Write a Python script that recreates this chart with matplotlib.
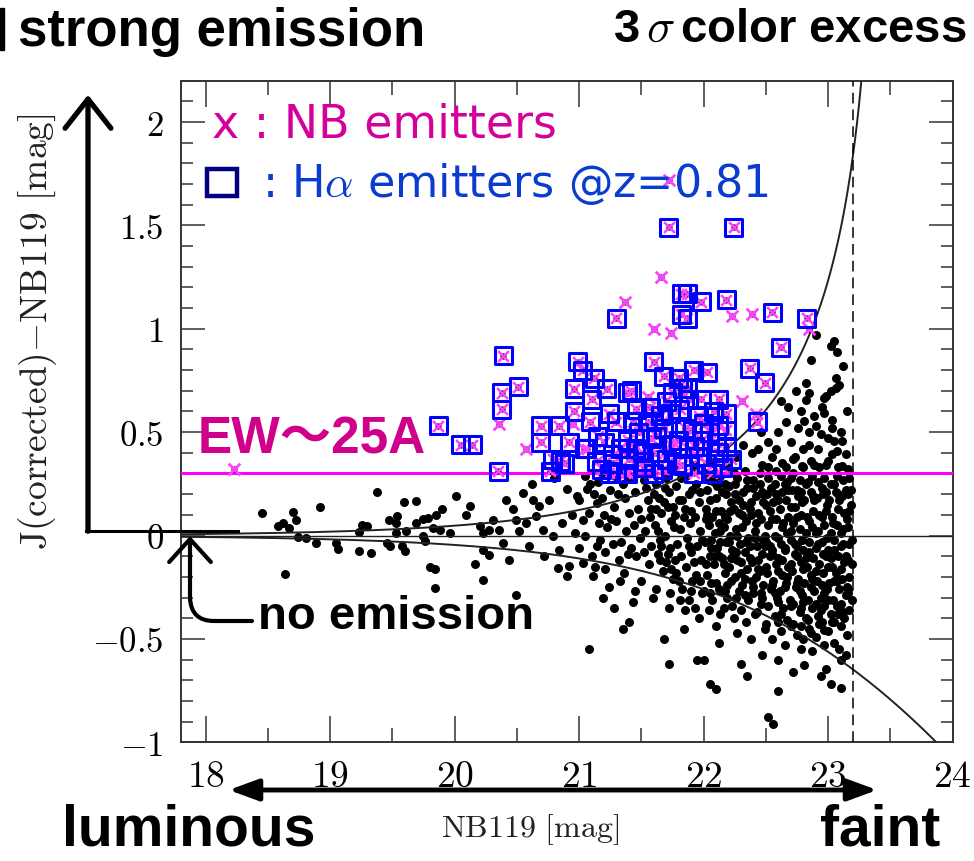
import numpy as np
import matplotlib
matplotlib.use('Agg')
import matplotlib.pyplot as plt
from matplotlib.ticker import MultipleLocator, FuncFormatter
from matplotlib.patches import FancyArrowPatch, Rectangle
from matplotlib.path import Path

plt.rcParams['mathtext.fontset'] = 'cm'

# ---- data: (NB119 mag, J-NB119 colour) ----
field = [
    (18.45, 0.11), (18.70, 0.115), (18.73, 0.074), (18.58, 0.045), (18.62, 0.061), (18.67, 0.037),
    (18.92, 0.139), (18.64, -0.185), (18.89, -0.035), (18.74, -0.006), (18.81, -0.011), (19.05, -0.035),
    (19.06, -0.064), (19.23, -0.076), (19.33, -0.084), (19.38, 0.211), (19.26, 0.053), (19.30, 0.048),
    (19.23, 0.016), (19.47, 0.074), (19.53, 0.061), (19.54, 0.093), (19.59, 0.161), (19.69, 0.166),
    (19.46, -0.035), (19.48, -0.052), (19.58, -0.052), (19.60, -0.073), (19.53, 0.013), (19.61, 0.021),
    (19.69, 0.061), (19.75, 0.081), (19.79, 0.086), (19.85, 0.10), (19.90, 0.129), (19.75, -0.003),
    (19.76, -0.027), (19.83, 0.037), (19.88, 0.029), (19.96, 0.013), (20.01, 0.19), (20.12, 0.142),
    (20.09, 0.10), (19.80, -0.151), (19.84, -0.164), (19.84, -0.253), (20.16, -0.14), (20.23, -0.213),
    (20.49, -0.289), (20.20, 0.045), (20.23, 0.013), (20.28, 0.029), (20.31, 0.077), (20.23, -0.068),
    (20.28, -0.092), (20.36, 0.029), (20.39, -0.035), (20.41, 0.174), (20.47, 0.126), (20.49, 0.077),
    (20.55, 0.207), (20.63, 0.174), (20.57, 0.061), (20.65, 0.093), (20.71, 0.029), (20.68, 0.142),
    (20.76, 0.174), (20.79, -0.003), (20.84, -0.068), (20.92, -0.148), (20.90, -0.197), (20.83, -0.156),
    (21.11, -0.197), (21.03, -0.132), (20.97, 0.013), (21.03, 0.077), (21.08, 0.11), (20.90, 0.223),
    (20.98, 0.19), (21.06, 0.223), (21.14, 0.158), (21.14, -0.052), (20.60, -0.05), (20.52, 0.02),
    (20.44, -0.12), (20.86, 0.06), (20.94, 0.10), (21.00, -0.06), (20.72, -0.10), (20.62, 0.25),
    (20.80, 0.28), (21.05, 0.29),
    (21.15, 0.26), (21.18, 0.18), (21.20, 0.10), (21.22, 0.04), (21.17, -0.02), (21.21, -0.08),
    (21.25, 0.22), (21.28, 0.14), (21.30, 0.07), (21.27, -0.04), (21.32, -0.12), (21.35, 0.25),
    (21.37, 0.18), (21.40, 0.11), (21.38, 0.02), (21.42, -0.06), (21.36, -0.18), (21.45, 0.21),
    (21.47, 0.13), (21.44, 0.05), (21.49, -0.01), (21.46, -0.10), (21.50, -0.22), (21.52, 0.27),
    (21.55, 0.17), (21.57, 0.09), (21.53, 0.02), (21.58, -0.05), (21.56, -0.14), (21.59, -0.30),
    (21.24, -0.25), (21.12, 0.20), (21.13, -0.15), (21.43, -0.32), (21.29, 0.29), (21.48, 0.30),
    (21.34, -0.03), (21.19, -0.30), (21.08, -0.55), (21.40, -0.42),
    (21.05, 0.00), (21.10, -0.10), (21.16, 0.06), (21.21, -0.16), (21.26, 0.08), (21.31, 0.20),
    (21.33, -0.22), (21.39, -0.09), (21.41, 0.28), (21.50, 0.08), (21.52, -0.08), (21.54, 0.23),
    (21.45, -0.27), (21.28, -0.35), (21.58, 0.13), (21.18, 0.30), (21.09, 0.25), (21.00, 0.17),
    (21.62, 0.25), (21.64, 0.18), (21.66, 0.11), (21.61, 0.05), (21.65, -0.02), (21.63, -0.09),
    (21.67, -0.17), (21.62, -0.26), (21.70, 0.28), (21.72, 0.21), (21.71, 0.14), (21.74, 0.07),
    (21.69, 0.00), (21.73, -0.06), (21.70, -0.13), (21.75, -0.21), (21.72, -0.35), (21.78, 0.24),
    (21.80, 0.17), (21.77, 0.10), (21.81, 0.03), (21.79, -0.04), (21.82, -0.10), (21.78, -0.18),
    (21.83, -0.26), (21.86, 0.29), (21.88, 0.20), (21.85, 0.13), (21.89, 0.06), (21.87, -0.01),
    (21.90, -0.08), (21.86, -0.15), (21.91, -0.22), (21.88, -0.31), (21.94, 0.25), (21.96, 0.16),
    (21.93, 0.09), (21.97, 0.02), (21.95, -0.05), (21.98, -0.12), (21.94, -0.19), (21.99, -0.28),
    (21.96, -0.40), (21.84, -0.45), (21.68, -0.50), (21.76, 0.33), (21.92, 0.34),
    (21.60, 0.20), (21.63, 0.02), (21.66, -0.05), (21.68, 0.16), (21.71, -0.09), (21.73, -0.28),
    (21.76, 0.04), (21.77, -0.12), (21.80, -0.22), (21.82, 0.28), (21.84, 0.09), (21.85, -0.36),
    (21.88, -0.05), (21.90, 0.12), (21.92, -0.13), (21.93, -0.35), (21.97, 0.21), (21.99, -0.02),
    (21.97, -0.22), (21.62, 0.13), (21.69, 0.23), (21.75, 0.14), (21.83, 0.17), (21.91, 0.22),
    (21.65, -0.12), (21.74, -0.16), (21.81, -0.31), (21.90, -0.27),
    (22.01, 0.30), (22.03, 0.22), (22.02, 0.13), (22.04, 0.05), (22.01, -0.03), (22.05, -0.10),
    (22.03, -0.19), (22.00, -0.27), (22.04, -0.36), (22.07, 0.35), (22.08, 0.26), (22.10, 0.18),
    (22.07, 0.09), (22.09, 0.01), (22.11, -0.06), (22.08, -0.14), (22.10, -0.23), (22.07, -0.31),
    (22.10, -0.44), (22.13, 0.29), (22.15, 0.21), (22.14, 0.12), (22.16, 0.04), (22.13, -0.03),
    (22.15, -0.11), (22.17, -0.18), (22.14, -0.27), (22.16, -0.35), (22.12, -0.52), (22.19, 0.33),
    (22.20, 0.24), (22.22, 0.16), (22.19, 0.08), (22.21, 0.00), (22.23, -0.07), (22.20, -0.15),
    (22.22, -0.22), (22.19, -0.30), (22.24, -0.40), (22.26, 0.38), (22.27, 0.28), (22.25, 0.20),
    (22.28, 0.11), (22.26, 0.03), (22.29, -0.04), (22.27, -0.12), (22.25, -0.20), (22.28, -0.27),
    (22.30, -0.36), (22.27, -0.47), (22.32, 0.44), (22.33, 0.31), (22.35, 0.23), (22.32, 0.15),
    (22.34, 0.07), (22.36, -0.01), (22.33, -0.08), (22.35, -0.16), (22.31, -0.24), (22.36, -0.31),
    (22.34, -0.42), (22.39, 0.40), (22.40, 0.27), (22.42, 0.19), (22.38, 0.10), (22.41, 0.02),
    (22.43, -0.05), (22.39, -0.13), (22.42, -0.20), (22.40, -0.28), (22.43, -0.37), (22.38, -0.50),
    (22.46, 0.50), (22.47, 0.34), (22.45, 0.25), (22.48, 0.16), (22.46, 0.08), (22.49, 0.00),
    (22.47, -0.09), (22.45, -0.17), (22.48, -0.24), (22.46, -0.33), (22.49, -0.45), (22.47, -0.58),
    (22.02, 0.08), (22.06, -0.06), (22.05, 0.17), (22.06, -0.23), (22.09, 0.30), (22.12, 0.06),
    (22.12, -0.10), (22.13, -0.38), (22.17, 0.25), (22.18, -0.03), (22.17, -0.27), (22.21, 0.12),
    (22.22, -0.11), (22.23, -0.34), (22.24, 0.30), (22.26, -0.08), (22.28, 0.17), (22.30, -0.18),
    (22.31, 0.04), (22.33, -0.29), (22.35, 0.27), (22.37, -0.05), (22.38, 0.16), (22.39, -0.22),
    (22.41, -0.38), (22.42, 0.06), (22.44, -0.12), (22.45, 0.30), (22.46, -0.28), (22.48, 0.20),
    (22.49, -0.05), (22.44, 0.42),
    (22.04, 0.27), (22.11, 0.24), (22.18, 0.20), (22.25, 0.25), (22.32, 0.21), (22.40, 0.23),
    (22.47, 0.21), (22.03, 0.10), (22.10, 0.12), (22.17, 0.09), (22.24, 0.13), (22.31, 0.10),
    (22.37, 0.13), (22.44, 0.11), (22.06, -0.02), (22.13, 0.02), (22.20, -0.03), (22.27, 0.00),
    (22.34, -0.03), (22.41, -0.01), (22.48, -0.02), (22.02, -0.14), (22.09, -0.10), (22.16, -0.14),
    (22.23, -0.11), (22.30, -0.13), (22.37, -0.11), (22.44, -0.16), (22.05, -0.28), (22.12, -0.26),
    (22.19, -0.24), (22.26, -0.30), (22.33, -0.21), (22.40, -0.25), (22.47, -0.30),
    (22.10, -0.74), (22.00, -0.60), (22.30, -0.62), (22.52, -0.88), (22.56, -0.91), (21.35, -0.45),
    (21.72, -0.62), (22.05, -0.72), (21.95, -0.60), (22.35, -0.68), (22.60, -0.75),
    (22.52, 0.45), (22.55, 0.38), (22.60, 0.50), (22.58, 0.42), (22.63, 0.35), (22.66, 0.55),
    (22.70, 0.45), (22.68, 0.62), (22.73, 0.38), (22.76, 0.52), (22.74, 0.70), (22.78, 0.60),
    (22.80, 0.42), (22.62, 0.65),
    (22.52, 0.28), (22.51, 0.20), (22.53, 0.12), (22.52, 0.05), (22.50, -0.03), (22.53, -0.10),
    (22.51, -0.18), (22.54, -0.26), (22.52, -0.34), (22.50, -0.43), (22.57, 0.25), (22.56, 0.16),
    (22.58, 0.08), (22.57, 0.00), (22.55, -0.07), (22.58, -0.14), (22.56, -0.22), (22.59, -0.30),
    (22.57, -0.39), (22.55, -0.50), (22.62, 0.29), (22.63, 0.21), (22.61, 0.13), (22.63, 0.04),
    (22.62, -0.04), (22.60, -0.11), (22.63, -0.19), (22.61, -0.27), (22.64, -0.35), (22.62, -0.46),
    (22.60, -0.60), (22.67, 0.26), (22.66, 0.17), (22.68, 0.09), (22.67, 0.01), (22.65, -0.06),
    (22.68, -0.15), (22.66, -0.23), (22.69, -0.31), (22.67, -0.41), (22.65, -0.53), (22.72, 0.30),
    (22.71, 0.22), (22.73, 0.14), (22.72, 0.06), (22.70, -0.02), (22.73, -0.09), (22.71, -0.17),
    (22.74, -0.25), (22.72, -0.33), (22.70, -0.44), (22.72, -0.66), (22.77, 0.27), (22.76, 0.19),
    (22.78, 0.10), (22.77, 0.03), (22.75, -0.05), (22.78, -0.13), (22.76, -0.21), (22.79, -0.29),
    (22.77, -0.37), (22.75, -0.48), (22.82, 0.25), (22.81, 0.17), (22.83, 0.09), (22.82, 0.01),
    (22.80, -0.07), (22.83, -0.15), (22.81, -0.23), (22.84, -0.31), (22.82, -0.40), (22.80, -0.50),
    (22.87, 0.29), (22.86, 0.21), (22.88, 0.12), (22.87, 0.04), (22.85, -0.03), (22.88, -0.11),
    (22.86, -0.19), (22.89, -0.27), (22.87, -0.35), (22.85, -0.45), (22.87, -0.56), (22.92, 0.26),
    (22.91, 0.18), (22.93, 0.10), (22.92, 0.02), (22.90, -0.06), (22.93, -0.14), (22.91, -0.22),
    (22.94, -0.30), (22.92, -0.39), (22.90, -0.49), (22.97, 0.28), (22.96, 0.20), (22.98, 0.12),
    (22.97, 0.05), (22.95, -0.03), (22.98, -0.10), (22.96, -0.18), (22.99, -0.26), (22.97, -0.34),
    (22.95, -0.42), (22.97, -0.53), (23.02, 0.25), (23.01, 0.17), (23.03, 0.09), (23.02, 0.01),
    (23.00, -0.07), (23.03, -0.15), (23.01, -0.23), (23.04, -0.31), (23.02, -0.38), (23.00, -0.46),
    (23.07, 0.29), (23.06, 0.21), (23.08, 0.13), (23.07, 0.05), (23.05, -0.02), (23.08, -0.10),
    (23.06, -0.18), (23.09, -0.26), (23.07, -0.34), (23.05, -0.42), (23.12, 0.27), (23.11, 0.19),
    (23.13, 0.11), (23.12, 0.03), (23.10, -0.05), (23.13, -0.13), (23.11, -0.21), (23.14, -0.29),
    (23.12, -0.37), (23.10, -0.44), (23.17, 0.28), (23.16, 0.20), (23.17, 0.12), (23.16, 0.04),
    (23.17, -0.04), (23.16, -0.12), (23.17, -0.20), (23.16, -0.28), (23.17, -0.36),
    (22.54, 0.23), (22.65, 0.25), (22.75, 0.22), (22.84, 0.26), (22.95, 0.23), (23.05, 0.25),
    (23.14, 0.22), (22.50, 0.15), (22.60, 0.17), (22.70, 0.14), (22.79, 0.16), (22.89, 0.17),
    (22.99, 0.15), (23.09, 0.17), (23.18, 0.15), (22.55, 0.08), (22.64, 0.06), (22.75, 0.09),
    (22.85, 0.07), (22.95, 0.09), (23.04, 0.06), (23.15, 0.08), (22.60, -0.01), (22.70, 0.02),
    (22.79, -0.02), (22.90, 0.01), (22.99, -0.01), (23.10, 0.01), (23.19, -0.02), (22.55, -0.09),
    (22.65, -0.07), (22.75, -0.10), (22.85, -0.08), (22.96, -0.09), (23.05, -0.07), (23.14, -0.10),
    (22.50, -0.15), (22.60, -0.17), (22.70, -0.14), (22.80, -0.16), (22.90, -0.17), (23.00, -0.15),
    (23.10, -0.16), (23.19, -0.14), (22.55, -0.24), (22.65, -0.25), (22.75, -0.23), (22.86, -0.25),
    (22.95, -0.24), (23.05, -0.22), (23.15, -0.25), (22.60, -0.32), (22.70, -0.34), (22.80, -0.32),
    (22.90, -0.33), (23.00, -0.31), (23.10, -0.33), (23.19, -0.31), (22.60, -0.42), (22.72, -0.43),
    (22.84, -0.41), (22.93, -0.43), (23.03, -0.42), (23.13, -0.40),
    (22.52, 0.33), (22.58, 0.31), (22.66, 0.33), (22.72, 0.37), (22.80, 0.33), (22.86, 0.36),
    (22.93, 0.33), (23.00, 0.36), (23.08, 0.33), (23.16, 0.32), (22.53, -0.05), (22.63, -0.12),
    (22.73, -0.04), (22.82, -0.11), (22.92, -0.04), (23.02, -0.11), (23.12, -0.04), (22.58, 0.20),
    (22.68, 0.22), (22.78, 0.21), (22.88, 0.19), (22.98, 0.21), (23.08, 0.20), (23.18, 0.22),
    (22.57, -0.28), (22.67, -0.20), (22.77, -0.27), (22.87, -0.21), (22.97, -0.28), (23.07, -0.22),
    (23.16, -0.26), (22.62, -0.38), (22.78, -0.35), (22.94, -0.36), (23.08, -0.38), (22.85, 0.50),
    (22.92, 0.42), (23.00, 0.47), (23.10, 0.50), (23.15, 0.60), (22.95, 0.62), (23.12, 0.82),
    (22.70, 0.28),
    (22.90, 0.972), (23.05, 0.94), (23.02, 0.916), (23.07, 0.887), (22.86, 0.847), (23.06, 0.763),
    (22.82, 0.739), (22.85, 0.69), (22.82, 0.655), (22.98, 0.674), (23.02, 0.698), (23.06, 0.714),
    (23.09, 0.726), (22.97, 0.666), (22.89, 0.577), (22.97, 0.594), (22.81, 0.553), (22.90, 0.529),
    (23.03, 0.561), (23.03, 0.521), (22.94, 0.489), (22.85, 0.44), (23.05, 0.456), (23.11, 0.456),
    (23.07, 0.408), (23.14, 0.392), (23.03, 0.392), (22.98, 0.343), (22.89, 0.343), (22.79, 0.335),
    (23.11, 0.335), (22.78, -0.44), (22.86, -0.47), (22.97, -0.455), (23.15, -0.48), (23.05, -0.52),
    (23.09, -0.55), (23.10, -0.60), (22.81, -0.624), (22.98, -0.648), (22.94, -0.68), (23.02, -0.72),
    (23.10, -0.737), (23.14, -0.576), (22.78, -0.55),
]

ha_emitters = [
    (19.87, 0.53), (20.05, 0.44), (20.14, 0.44), (20.35, 0.31), (20.39, 0.87), (20.38, 0.69),
    (20.38, 0.61), (20.51, 0.72), (20.69, 0.53), (20.84, 0.53), (20.92, 0.45), (20.69, 0.45),
    (20.79, 0.37), (20.77, 0.31), (20.85, 0.36), (20.99, 0.84), (21.03, 0.80), (20.96, 0.71),
    (21.12, 0.76), (21.22, 0.71), (20.96, 0.60), (21.10, 0.66), (21.09, 0.55), (21.15, 0.48),
    (21.06, 0.42), (21.27, 0.39), (21.30, 0.30), (21.39, 0.30), (21.39, 0.69), (21.42, 0.70),
    (21.30, 1.05), (21.60, 0.84), (21.68, 0.77), (21.82, 1.17), (21.87, 1.17), (21.98, 1.13),
    (22.18, 1.14), (21.82, 1.07), (21.87, 1.05), (22.55, 1.08), (22.62, 0.91), (22.37, 0.81),
    (22.49, 0.74), (22.43, 0.55), (21.92, 0.80), (22.03, 0.79), (21.80, 0.76), (21.83, 0.71),
    (20.88, 0.35), (21.04, 0.42), (21.27, 0.35), (21.24, 0.30), (21.24, 0.59), (21.30, 0.55),
    (21.46, 0.61), (21.39, 0.46), (21.48, 0.50), (21.51, 0.40), (21.40, 0.37), (21.37, 0.30),
    (21.62, 0.48), (21.65, 0.58), (21.73, 0.59), (21.81, 0.61), (21.70, 0.37), (21.78, 0.35),
    (21.67, 0.32), (21.74, 0.44), (21.83, 0.34), (21.75, 0.69), (21.87, 0.71), (21.88, 0.66),
    (21.96, 0.58), (21.91, 0.51), (21.99, 0.46), (21.96, 0.38), (22.02, 0.35), (22.12, 0.66),
    (22.18, 0.59), (22.12, 0.53), (22.18, 0.51), (22.10, 0.45), (22.12, 0.40), (22.18, 0.43),
    (22.83, 1.05), (21.72, 1.49), (22.24, 1.49), (21.55, 0.55), (21.58, 0.47), (21.52, 0.33),
    (21.60, 0.30), (21.85, 0.52), (21.92, 0.30), (22.05, 0.50), (22.07, 0.30), (22.15, 0.33),
    (21.45, 0.42), (21.20, 0.45), (21.57, 0.62), (21.88, 0.42), (22.22, 0.37), (21.18, 0.32),
    (21.68, 0.52), (21.93, 0.43), (21.33, 0.42), (21.52, 0.36), (21.62, 0.40), (21.80, 0.46),
    (22.00, 0.54), (22.08, 0.60), (21.43, 0.55), (21.14, 0.36), (21.98, 0.66), (21.70, 0.65),
]

nb_only = [
    (18.23, 0.32), (20.36, 0.54), (20.57, 0.42), (21.37, 1.13), (21.60, 1.00), (21.74, 0.98),
    (22.23, 1.06), (22.39, 1.07), (21.66, 1.25), (21.72, 1.72), (21.55, 0.67), (22.31, 0.65),
    (21.75, 0.45), (20.95, 0.54), (22.42, 0.59), (22.85, 1.00),
]

m_lim = 23.42      # NB119 where the 3 sigma curve diverges
ew_cut = 0.3       # EW ~ 25A colour cut
mag_cut = 23.2     # dashed limit

fx, fy = zip(*field)
hx, hy = zip(*ha_emitters)
nx, ny = zip(*nb_only)

fig = plt.figure(figsize=(9.74, 8.61), dpi=100)
ax = fig.add_axes([0.1855, 0.1379, 0.7926, 0.7684])

# 3 sigma curves
m = np.linspace(17.8, 24.0, 800)
s = 10 ** (0.4 * (m - m_lim))
up = np.where(s < 0.999, -2.5 * np.log10(np.clip(1 - s, 1e-6, None)), np.nan)
lo = -2.5 * np.log10(1 + s)
ax.plot(m, up, color='#222222', lw=1.4, zorder=3)
ax.plot(m, lo, color='#222222', lw=1.4, zorder=3)
ax.axhline(0, color='#222222', lw=1.0, zorder=3)
ax.axhline(ew_cut, color='#ff00ff', lw=2.2, zorder=4)
ax.axvline(mag_cut, color='black', lw=1.1, ls=(0, (7, 4)), zorder=3)

ax.scatter(fx, fy, s=42, color='black', lw=0, zorder=2)
ax.scatter(nx, ny, s=20, color='black', lw=0, zorder=5)
ax.scatter(nx, ny, s=70, marker='x', color='#ff40ff', lw=2.0, zorder=5)
ax.scatter(hx, hy, s=20, color='black', lw=0, zorder=6)
ax.scatter(hx, hy, s=60, marker='x', color='#ff40ff', lw=1.8, zorder=6)
ax.scatter(hx, hy, s=150, marker='s', facecolors='none', edgecolors='#0000ff', lw=2.2, zorder=7)

ax.set_xlim(17.8, 24)
ax.set_ylim(-1, 2.2)
ax.xaxis.set_major_locator(MultipleLocator(1))
ax.xaxis.set_minor_locator(MultipleLocator(0.5))
ax.yaxis.set_major_locator(MultipleLocator(0.5))
ax.yaxis.set_minor_locator(MultipleLocator(0.1))
fmt = FuncFormatter(lambda v, p: '$%g$' % v)
ax.xaxis.set_major_formatter(fmt)
ax.yaxis.set_major_formatter(fmt)
ax.tick_params(which='both', direction='in', top=True, right=True, color='#333333', width=1.1)
ax.tick_params(axis='x', which='major', length=19, labelsize=27, pad=12)
ax.tick_params(axis='x', which='minor', length=10)
ax.tick_params(axis='y', which='major', length=17, labelsize=25, pad=12)
ax.tick_params(axis='y', which='minor', length=8.5)
for sp in ax.spines.values():
    sp.set_linewidth(1.4)
    sp.set_color('#333333')

fig.text(38 / 974, 1 - 332 / 861, r'$\mathrm{J(corrected){-}NB119\ [mag]}$',
         rotation=90, ha='center', va='center', fontsize=27, color='#222222')

# overlay in pixel coordinates for the slide annotations
ov = fig.add_axes([0, 0, 1, 1], facecolor='none')
ov.set_xlim(0, 974)
ov.set_ylim(861, 0)
ov.axis('off')

bold = dict(family=['Liberation Sans', 'Noto Sans CJK JP', 'DejaVu Sans'], weight='bold')
ov.add_patch(Rectangle((0, 8), 4, 42, color='black'))
ov.text(18, 32, 'strong emission', fontsize=38, ha='left', va='center', **bold)
ov.text(966, 30, r'3$\,\mathit{\sigma}\,$color excess', fontsize=34, ha='right', va='center', **bold)
ov.text(62, 830, 'luminous', fontsize=41, ha='left', va='center', **bold)
ov.text(940, 830, 'faint', fontsize=41, ha='right', va='center', **bold)
ov.text(530, 830, r'$\mathrm{NB119\ [mag]}$', fontsize=23, ha='center', va='center', color='#222222')
ov.text(198, 440, 'EW～25A', fontsize=37, ha='left', va='center', color='#d0008c', **bold)
ov.text(258, 617, 'no emission', fontsize=34, ha='left', va='center', **bold)

ov.text(212, 125, 'x : NB emitters', fontsize=33, ha='left', va='center', color='#d4009a',
        family='DejaVu Sans')
ov.add_patch(Rectangle((207, 169), 30, 27, fill=False, edgecolor='#000080', lw=3.2))
ov.text(262, 184, ': H$\\alpha$ emitters @z=0.81', fontsize=32, ha='left', va='center',
        color='#0a3cd0', family='DejaVu Sans')

# axis-like arrows
ov.add_patch(FancyArrowPatch((88, 534), (88, 92), arrowstyle='->,head_length=0.7,head_width=0.55',
                             mutation_scale=30, lw=3.8, color='black'))
ov.plot([86, 238], [531, 531], color='black', lw=2.2)
ov.add_patch(FancyArrowPatch((226, 790), (880, 790), arrowstyle='<|-|>,head_length=0.6,head_width=0.22',
                             mutation_scale=30, lw=3.5, color='black'))
curve = Path([(252, 621), (214, 621), (191, 621), (190, 598), (190, 536)],
             [Path.MOVETO, Path.LINETO, Path.CURVE3, Path.CURVE3, Path.LINETO])
ov.add_patch(FancyArrowPatch(path=curve, arrowstyle='->,head_length=0.55,head_width=0.5',
                             mutation_scale=30, lw=3.0, color='black'))

fig.savefig('out.png', dpi=100)
